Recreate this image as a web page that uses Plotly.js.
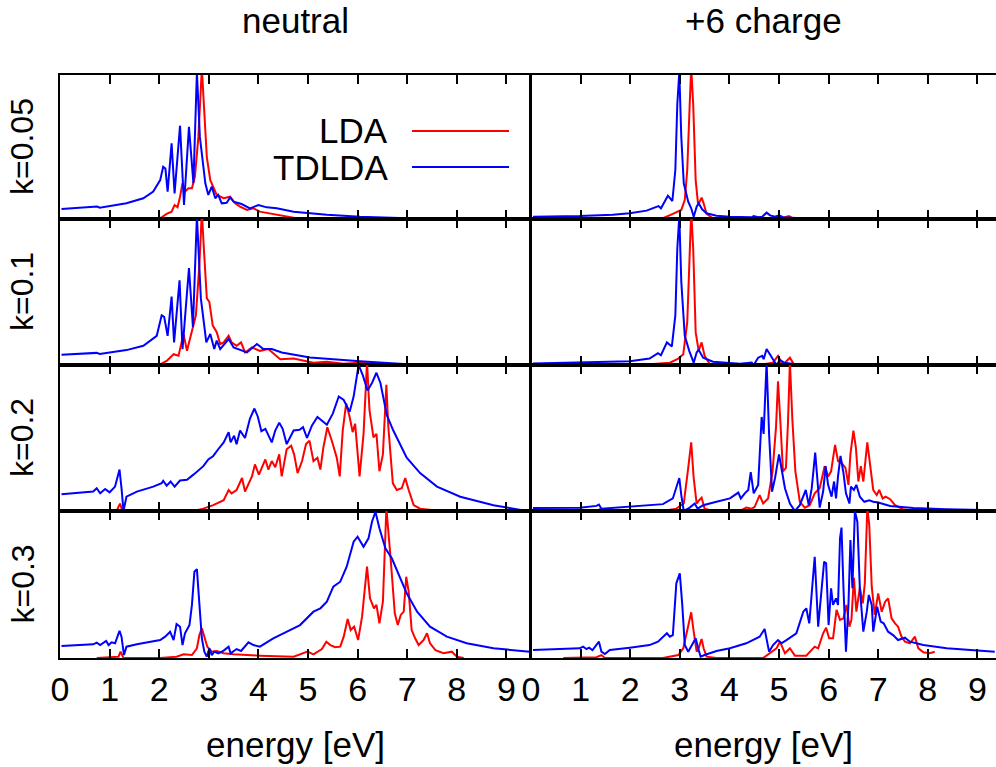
<!DOCTYPE html>
<html>
<head>
<meta charset="utf-8">
<script src="https://cdn.plot.ly/plotly-3.0.1.min.js"></script>
<style>
html,body{margin:0;padding:0;overflow:hidden;background:#fff;}
#chart{width:1000px;height:767px;}
</style>
</head>
<body>
<div id="chart"></div>
<script>
// ---------- data (energy in eV, intensity in arbitrary units scaled to panel height) ----------
const columnTitles = ['neutral', '+6 charge'];
const rowLabels = ['k=0.05', 'k=0.1', 'k=0.2', 'k=0.3'];
const seriesNames = ['LDA', 'TDLDA'];
const tickValues = [0, 1, 2, 3, 4, 5, 6, 7, 8, 9];

// neutral, k=0.05
const neutral005LdaE = [0.8, 2.02, 2.15, 2.25, 2.31, 2.37, 2.42, 2.47, 2.52, 2.59, 2.66, 2.72, 2.79, 2.86, 2.9, 2.96, 3.03, 3.09, 3.16, 3.3, 3.43, 3.53, 3.63, 3.77, 3.9, 4.03, 4.37, 4.71, 5.38, 6.7];
const neutral005LdaI = [0, 0.005, 0.035, 0.051, 0.097, 0.081, 0.155, 0.248, 0.19, 0.213, 0.213, 0.294, 0.57, 1.05, 0.8, 0.43, 0.27, 0.225, 0.167, 0.144, 0.155, 0.109, 0.086, 0.063, 0.074, 0.051, 0.028, 0.009, 0.002, 0];
const neutral005TdE = [0.03, 0.67, 0.75, 0.8, 1.01, 1.34, 1.68, 1.88, 2.02, 2.08, 2.125, 2.17, 2.25, 2.31, 2.42, 2.5, 2.6, 2.69, 2.76, 2.82, 2.93, 2.99, 3.06, 3.13, 3.19, 3.26, 3.36, 3.43, 3.5, 3.66, 3.83, 4.0, 4.17, 4.37, 4.71, 5.38, 6.05, 7.0, 8.74];
const neutral005TdI = [0.07, 0.081, 0.086, 0.079, 0.09, 0.109, 0.144, 0.19, 0.27, 0.363, 0.35, 0.19, 0.525, 0.178, 0.648, 0.097, 0.64, 0.248, 1.02, 0.57, 0.248, 0.167, 0.225, 0.144, 0.167, 0.109, 0.113, 0.15, 0.12, 0.104, 0.074, 0.097, 0.081, 0.074, 0.051, 0.03, 0.016, 0.005, 0];

// neutral, k=0.1
const neutral01LdaE = [0.67, 2.02, 2.15, 2.29, 2.39, 2.49, 2.56, 2.66, 2.74, 2.81, 2.86, 2.9, 2.96, 3.01, 3.08, 3.16, 3.23, 3.3, 3.4, 3.46, 3.56, 3.65, 3.73, 3.87, 4.03, 4.2, 4.44, 4.71, 5.11, 5.38, 5.72, 6.05, 6.72];
const neutral01LdaI = [0, 0.005, 0.028, 0.074, 0.063, 0.213, 0.097, 0.236, 0.34, 0.688, 1.05, 0.8, 0.456, 0.433, 0.27, 0.225, 0.144, 0.155, 0.2, 0.155, 0.132, 0.155, 0.086, 0.12, 0.097, 0.109, 0.039, 0.044, 0.016, 0.023, 0.009, 0.016, 0];
const neutral01TdE = [0.03, 0.74, 0.8, 1.34, 1.68, 1.95, 2.05, 2.1, 2.17, 2.25, 2.3, 2.41, 2.47, 2.6, 2.68, 2.76, 2.84, 2.95, 3.03, 3.11, 3.16, 3.23, 3.4, 3.5, 3.77, 3.97, 4.1, 4.27, 4.47, 5.04, 6.05, 7.0, 9.28];
const neutral01TdI = [0.07, 0.083, 0.076, 0.102, 0.132, 0.2, 0.34, 0.33, 0.2, 0.468, 0.155, 0.58, 0.109, 0.664, 0.26, 1.02, 0.456, 0.155, 0.213, 0.109, 0.167, 0.109, 0.178, 0.12, 0.086, 0.144, 0.109, 0.109, 0.086, 0.051, 0.025, 0.005, 0];

// neutral, k=0.2
const neutral02LdaE = [0.74, 1.14, 1.21, 1.26, 2.69, 2.89, 3.09, 3.3, 3.4, 3.46, 3.56, 3.67, 3.73, 3.87, 3.93, 4.01, 4.14, 4.2, 4.27, 4.34, 4.42, 4.47, 4.57, 4.66, 4.72, 4.79, 4.88, 4.96, 5.03, 5.11, 5.19, 5.25, 5.31, 5.39, 5.48, 5.53, 5.58, 5.64, 5.7, 5.77, 5.84, 5.9, 5.95, 6.04, 6.12, 6.19, 6.24, 6.32, 6.38, 6.44, 6.51, 6.58, 6.62, 6.71, 6.79, 6.89, 6.96, 7.03, 7.13, 7.26, 7.53, 7.94];
const neutral02LdaI = [0, 0, 0.051, 0, 0, 0.016, 0.04, 0.074, 0.144, 0.121, 0.144, 0.226, 0.133, 0.237, 0.319, 0.249, 0.353, 0.284, 0.342, 0.3, 0.388, 0.237, 0.423, 0.447, 0.388, 0.26, 0.342, 0.458, 0.481, 0.342, 0.365, 0.284, 0.435, 0.574, 0.481, 0.423, 0.365, 0.237, 0.551, 0.737, 0.644, 0.54, 0.598, 0.237, 0.528, 1.02, 0.691, 0.505, 0.528, 0.272, 0.388, 0.865, 0.574, 0.191, 0.144, 0.156, 0.226, 0.144, 0.04, 0.016, 0.005, 0];
const neutral02TdE = [0.03, 0.67, 0.74, 0.81, 0.91, 1.0, 1.11, 1.2, 1.24, 1.28, 1.34, 1.55, 1.88, 2.05, 2.08, 2.15, 2.23, 2.31, 2.42, 2.56, 2.69, 2.89, 2.99, 3.09, 3.19, 3.3, 3.4, 3.44, 3.51, 3.56, 3.63, 3.73, 3.83, 3.92, 3.99, 4.06, 4.14, 4.27, 4.34, 4.42, 4.49, 4.57, 4.64, 4.71, 4.83, 4.9, 4.98, 5.08, 5.19, 5.28, 5.38, 5.5, 5.62, 5.72, 5.84, 5.92, 6.02, 6.1, 6.2, 6.29, 6.38, 6.46, 6.59, 6.72, 6.99, 7.26, 7.6, 8.07, 8.74, 9.41];
const neutral02TdI = [0.114, 0.133, 0.156, 0.121, 0.151, 0.128, 0.167, 0.284, 0.156, 0, 0.098, 0.133, 0.167, 0.19, 0.207, 0.174, 0.202, 0.167, 0.209, 0.214, 0.249, 0.307, 0.353, 0.377, 0.423, 0.47, 0.54, 0.47, 0.516, 0.458, 0.551, 0.5, 0.633, 0.702, 0.644, 0.547, 0.563, 0.47, 0.551, 0.605, 0.563, 0.458, 0.505, 0.551, 0.556, 0.574, 0.5, 0.586, 0.644, 0.621, 0.591, 0.667, 0.784, 0.76, 0.679, 0.784, 1.0, 0.935, 0.826, 0.877, 0.947, 0.877, 0.656, 0.551, 0.365, 0.26, 0.167, 0.098, 0.04, 0];

// neutral, k=0.3
const neutral03LdaE = [0.74, 1.18, 1.22, 1.28, 2.02, 2.35, 2.49, 2.66, 2.76, 2.81, 2.86, 2.91, 2.97, 3.06, 3.16, 3.3, 3.5, 4.03, 4.71, 4.99, 5.11, 5.28, 5.37, 5.45, 5.55, 5.65, 5.72, 5.8, 5.86, 5.93, 6.01, 6.09, 6.19, 6.25, 6.33, 6.38, 6.44, 6.51, 6.58, 6.66, 6.75, 6.81, 6.87, 6.93, 6.98, 7.03, 7.09, 7.16, 7.23, 7.33, 7.4, 7.46, 7.57, 7.73, 7.9, 8.0, 8.14];
const neutral03LdaI = [0, 0.009, 0.043, 0, 0, 0.009, 0.025, 0.02, 0.066, 0.156, 0.202, 0.145, 0.077, 0.043, 0.048, 0.032, 0.025, 0.016, 0.009, 0.043, 0.025, 0.061, 0.111, 0.088, 0.073, 0.077, 0.145, 0.265, 0.19, 0.213, 0.122, 0.281, 0.621, 0.406, 0.338, 0.361, 0.236, 0.383, 1.02, 0.701, 0.304, 0.224, 0.293, 0.315, 0.553, 0.451, 0.19, 0.134, 0.088, 0.122, 0.168, 0.1, 0.054, 0.032, 0.043, 0.009, 0];
const neutral03TdE = [0.03, 0.67, 0.74, 0.81, 0.93, 0.98, 1.04, 1.11, 1.2, 1.24, 1.29, 1.34, 1.55, 2.02, 2.12, 2.22, 2.29, 2.35, 2.42, 2.47, 2.52, 2.61, 2.66, 2.71, 2.76, 2.81, 2.86, 2.91, 2.96, 3.01, 3.06, 3.11, 3.19, 3.3, 3.4, 3.44, 3.56, 3.65, 3.8, 3.9, 4.03, 4.3, 4.57, 4.84, 5.11, 5.25, 5.38, 5.51, 5.65, 5.78, 5.92, 6.0, 6.12, 6.22, 6.29, 6.36, 6.44, 6.56, 6.69, 6.86, 6.99, 7.2, 7.46, 7.8, 8.2, 8.74, 9.47];
const neutral03TdI = [0.082, 0.093, 0.104, 0.088, 0.116, 0.088, 0.107, 0.1, 0.184, 0.145, 0.02, 0.077, 0.093, 0.122, 0.145, 0.179, 0.122, 0.231, 0.213, 0.088, 0.168, 0.224, 0.361, 0.587, 0.605, 0.361, 0.134, 0.043, 0.009, 0.066, 0.02, 0.043, 0.032, 0.05, 0.077, 0.032, 0.061, 0.048, 0.107, 0.088, 0.077, 0.134, 0.179, 0.224, 0.315, 0.338, 0.383, 0.485, 0.519, 0.621, 0.791, 0.825, 0.757, 0.814, 0.927, 0.995, 0.882, 0.746, 0.678, 0.542, 0.44, 0.315, 0.213, 0.145, 0.1, 0.066, 0.043];

// +6 charge, k=0.05
const charged005LdaE = [2.13, 2.66, 2.86, 2.97, 3.03, 3.1, 3.15, 3.2, 3.23, 3.27, 3.32, 3.37, 3.44, 3.48, 3.54, 3.67, 4.0, 4.95, 5.0, 5.08, 5.2, 5.28, 5.69];
const charged005LdaI = [0, 0.005, 0.035, 0.05, 0.063, 0.132, 0.34, 0.8, 1.05, 0.8, 0.27, 0.097, 0.148, 0.109, 0.035, 0.005, 0, 0.005, 0.02, 0.009, 0.02, 0.005, 0];
const charged005TdE = [0.04, 0.98, 1.65, 1.99, 2.33, 2.53, 2.57, 2.62, 2.7, 2.76, 2.85, 2.91, 2.95, 2.99, 3.03, 3.08, 3.17, 3.23, 3.28, 3.34, 3.38, 3.45, 3.54, 3.74, 4.01, 4.45, 4.49, 4.58, 4.66, 4.75, 4.82, 4.92, 5.0, 5.08, 5.35, 7.37];
const charged005TdI = [0.016, 0.02, 0.03, 0.04, 0.058, 0.086, 0.09, 0.074, 0.12, 0.162, 0.125, 0.34, 0.8, 1.02, 0.57, 0.248, 0.12, 0.074, 0.016, 0.086, 0.109, 0.067, 0.04, 0.023, 0.016, 0.012, 0.02, 0.012, 0.016, 0.044, 0.025, 0.016, 0.025, 0.012, 0.007, 0.005];

// +6 charge, k=0.1
const charged01LdaE = [2.19, 2.8, 2.97, 3.07, 3.15, 3.2, 3.23, 3.27, 3.32, 3.38, 3.44, 3.5, 3.6, 4.0, 4.68, 4.88, 4.98, 5.05, 5.12, 5.22, 5.3, 5.76];
const charged01LdaI = [0, 0.016, 0.044, 0.074, 0.294, 0.8, 1.05, 0.8, 0.225, 0.097, 0.155, 0.063, 0.009, 0, 0.005, 0.016, 0.063, 0.016, 0.016, 0.05, 0.005, 0];
const charged01TdE = [0.04, 0.98, 1.99, 2.39, 2.56, 2.62, 2.74, 2.84, 2.91, 2.95, 2.99, 3.03, 3.1, 3.19, 3.28, 3.34, 3.38, 3.47, 3.67, 4.21, 4.45, 4.49, 4.58, 4.66, 4.69, 4.75, 4.85, 4.95, 5.02, 5.1, 5.35, 9.05];
const charged01TdI = [0.01, 0.016, 0.025, 0.044, 0.081, 0.067, 0.155, 0.127, 0.34, 0.8, 1.02, 0.57, 0.2, 0.097, 0.016, 0.086, 0.104, 0.05, 0.023, 0.009, 0.016, 0, 0.05, 0.063, 0.04, 0.109, 0.05, 0, 0.035, 0.016, 0.005, 0];

// +6 charge, k=0.2
const charged02LdaE = [1.32, 1.39, 1.45, 2.66, 2.93, 3.08, 3.17, 3.23, 3.28, 3.34, 3.39, 3.44, 3.5, 3.67, 4.21, 4.34, 4.45, 4.51, 4.61, 4.68, 4.78, 4.87, 4.94, 4.98, 5.03, 5.08, 5.14, 5.18, 5.22, 5.27, 5.33, 5.42, 5.52, 5.62, 5.72, 5.82, 5.92, 5.99, 6.05, 6.13, 6.19, 6.26, 6.34, 6.4, 6.44, 6.5, 6.55, 6.6, 6.65, 6.7, 6.78, 6.83, 6.9, 6.97, 7.02, 7.09, 7.15, 7.24, 7.34, 7.5, 7.71];
const charged02LdaI = [0, 0.012, 0, 0, 0.016, 0.051, 0.295, 0.47, 0.226, 0.051, 0.074, 0.091, 0.016, 0, 0, 0.023, 0.016, 0.028, 0.109, 0.051, 0.086, 0.272, 0.574, 0.888, 0.598, 0.272, 0.295, 0.598, 1.02, 0.621, 0.272, 0.063, 0.023, 0.04, 0.121, 0.156, 0.307, 0.237, 0.272, 0.453, 0.342, 0.33, 0.295, 0.179, 0.388, 0.551, 0.435, 0.202, 0.307, 0.202, 0.47, 0.342, 0.144, 0.109, 0.144, 0.086, 0.098, 0.081, 0.04, 0.012, 0];
const charged02TdE = [0.04, 0.98, 1.32, 1.37, 1.42, 1.99, 2.66, 2.86, 2.99, 3.03, 3.08, 3.2, 3.3, 3.36, 3.47, 3.74, 4.01, 4.18, 4.23, 4.31, 4.38, 4.43, 4.49, 4.58, 4.65, 4.69, 4.75, 4.8, 4.86, 4.92, 5.0, 5.06, 5.12, 5.22, 5.32, 5.42, 5.54, 5.6, 5.66, 5.73, 5.77, 5.82, 5.89, 5.94, 5.99, 6.06, 6.11, 6.15, 6.19, 6.24, 6.3, 6.35, 6.42, 6.45, 6.51, 6.56, 6.63, 6.72, 6.82, 6.9, 7.0, 7.24, 7.71, 8.38, 9.35];
const charged02TdI = [0.021, 0.023, 0.035, 0.044, 0.016, 0.028, 0.047, 0.086, 0.226, 0.109, 0, 0.023, 0.051, 0.016, 0.04, 0.063, 0.086, 0.126, 0.086, 0.121, 0.144, 0.267, 0.121, 0.179, 0.644, 0.528, 1.02, 0.528, 0.133, 0.226, 0.388, 0.272, 0.156, 0.051, 0, 0.04, 0.144, 0.04, 0.156, 0.4, 0.226, 0.023, 0.133, 0.307, 0.179, 0.098, 0.202, 0.086, 0.237, 0.377, 0.26, 0.121, 0.051, 0.167, 0.144, 0.179, 0.098, 0.063, 0.074, 0.063, 0.058, 0.035, 0.021, 0.012, 0.005];

// +6 charge, k=0.3
const charged03LdaE = [0.65, 1.32, 1.42, 1.49, 2.66, 2.97, 3.07, 3.15, 3.23, 3.28, 3.34, 3.38, 3.44, 3.48, 3.54, 3.74, 4.68, 4.95, 5.02, 5.12, 5.22, 5.32, 5.55, 5.72, 5.79, 5.89, 5.95, 6.01, 6.09, 6.16, 6.23, 6.3, 6.36, 6.42, 6.46, 6.51, 6.56, 6.63, 6.69, 6.73, 6.78, 6.82, 6.87, 6.93, 7.0, 7.07, 7.14, 7.2, 7.27, 7.34, 7.4, 7.47, 7.54, 7.64, 7.74, 7.81, 7.91, 8.04, 8.14];
const charged03LdaI = [0, 0.005, 0.02, 0, 0, 0.02, 0.066, 0.179, 0.311, 0.179, 0.043, 0.066, 0.129, 0.066, 0.009, 0, 0, 0.066, 0.111, 0.032, 0.066, 0.016, 0.016, 0.077, 0.066, 0.168, 0.206, 0.134, 0.134, 0.327, 0.259, 0.27, 0.361, 0.213, 0.259, 0.546, 0.315, 0.478, 0.372, 0.508, 1.02, 0.905, 0.485, 0.293, 0.44, 0.315, 0.383, 0.406, 0.27, 0.236, 0.213, 0.145, 0.111, 0.1, 0.145, 0.066, 0.039, 0.032, 0.043];
const charged03TdE = [0.04, 0.78, 0.98, 1.05, 1.12, 1.17, 1.24, 1.37, 1.42, 1.49, 1.59, 1.99, 2.39, 2.56, 2.66, 2.74, 2.8, 2.86, 2.93, 3.0, 3.05, 3.1, 3.17, 3.27, 3.32, 3.37, 3.42, 3.5, 3.74, 4.01, 4.34, 4.61, 4.71, 4.8, 4.88, 4.98, 5.05, 5.15, 5.35, 5.49, 5.55, 5.61, 5.66, 5.72, 5.79, 5.86, 5.91, 5.95, 6.0, 6.05, 6.09, 6.15, 6.19, 6.23, 6.26, 6.3, 6.35, 6.4, 6.44, 6.48, 6.53, 6.58, 6.63, 6.7, 6.77, 6.81, 6.87, 6.9, 6.98, 7.05, 7.11, 7.2, 7.3, 7.4, 7.54, 7.64, 7.91, 8.38, 9.35];
const charged03TdI = [0.054, 0.061, 0.066, 0.077, 0.061, 0.07, 0.054, 0.111, 0.043, 0.027, 0.054, 0.07, 0.088, 0.111, 0.145, 0.168, 0.145, 0.156, 0.508, 0.576, 0.361, 0.088, 0.043, 0.111, 0.134, 0.066, 0.009, 0.02, 0.048, 0.066, 0.1, 0.145, 0.197, 0.043, 0.088, 0.122, 0.1, 0.122, 0.168, 0.315, 0.338, 0.236, 0.451, 0.689, 0.213, 0.474, 0.655, 0.644, 0.224, 0.474, 0.361, 0.406, 0.361, 0.814, 0.887, 0.474, 0.043, 0.361, 0.803, 0.474, 1.0, 0.927, 0.474, 0.179, 0.315, 0.429, 0.361, 0.179, 0.349, 0.247, 0.236, 0.179, 0.156, 0.122, 0.138, 0.111, 0.088, 0.066, 0.043];

// ---------- assemble ----------
const panels = [
  [[neutral005LdaE, neutral005LdaI, neutral005TdE, neutral005TdI], [charged005LdaE, charged005LdaI, charged005TdE, charged005TdI]],
  [[neutral01LdaE, neutral01LdaI, neutral01TdE, neutral01TdI], [charged01LdaE, charged01LdaI, charged01TdE, charged01TdI]],
  [[neutral02LdaE, neutral02LdaI, neutral02TdE, neutral02TdI], [charged02LdaE, charged02LdaI, charged02TdE, charged02TdI]],
  [[neutral03LdaE, neutral03LdaI, neutral03TdE, neutral03TdI], [charged03LdaE, charged03LdaI, charged03TdE, charged03TdI]]
];

const W = 1000, H = 767;
const FONT = 'Liberation Sans, Arial, Helvetica, sans-serif';
const colPx = [[60, 530], [531, 1000]];
const rowPx = [[75, 219], [219, 365], [365, 511], [511, 658]];
const pxPerEv = 49.6;
const RED = '#ff0000', BLUE = '#0000ff';

const data = [];
const layout = {
  width: W, height: H,
  margin: {l: 0, r: 0, t: 0, b: 0},
  paper_bgcolor: '#fff', plot_bgcolor: '#fff',
  showlegend: false,
  font: {family: FONT, size: 34, color: '#000'},
  annotations: [], shapes: []
};

for (let r = 0; r < 4; r++) {
  for (let c = 0; c < 2; c++) {
    const n = r * 2 + c + 1;
    const xa = 'x' + (n === 1 ? '' : n), ya = 'y' + (n === 1 ? '' : n);
    const xk = 'xaxis' + (n === 1 ? '' : n), yk = 'yaxis' + (n === 1 ? '' : n);
    const p = panels[r][c];
    data.push({x: p[0], y: p[1], xaxis: xa, yaxis: ya, type: 'scatter', mode: 'lines',
      name: seriesNames[0], line: {color: RED, width: 2}});
    data.push({x: p[2], y: p[3], xaxis: xa, yaxis: ya, type: 'scatter', mode: 'lines',
      name: seriesNames[1], line: {color: BLUE, width: 2}});
    layout[xk] = {
      domain: [colPx[c][0] / W, colPx[c][1] / W],
      range: [0, (colPx[c][1] - colPx[c][0]) / pxPerEv],
      anchor: ya,
      tickmode: 'array', tickvals: tickValues, ticktext: tickValues.map(String),
      ticks: 'inside', ticklen: 9, tickwidth: 2, tickcolor: '#000',
      showline: true, linecolor: '#000', linewidth: 2, mirror: 'ticks',
      showgrid: false, zeroline: false,
      showticklabels: r === 3,
      tickfont: {family: FONT, size: 34, color: '#000'}
    };
    layout[yk] = {
      domain: [1 - rowPx[r][1] / H, 1 - rowPx[r][0] / H],
      range: [0, 1],
      anchor: xa,
      showticklabels: false, ticks: '',
      showline: true, linecolor: '#000', linewidth: 2, mirror: true,
      showgrid: false, zeroline: false
    };
  }
}

// column titles and x-axis titles
for (let c = 0; c < 2; c++) {
  const cx = (colPx[c][0] + Math.min(colPx[c][1], 996)) / 2 / W;
  layout.annotations.push({text: columnTitles[c], xref: 'paper', yref: 'paper', x: cx, y: 1 - 21 / H,
    xanchor: 'center', yanchor: 'middle', showarrow: false, font: {family: FONT, size: 35, color: '#000'}});
  layout.annotations.push({text: 'energy [eV]', xref: 'paper', yref: 'paper', x: cx, y: 1 - 744 / H,
    xanchor: 'center', yanchor: 'middle', showarrow: false, font: {family: FONT, size: 35, color: '#000'}});
}
// row labels
for (let r = 0; r < 4; r++) {
  const cy = (rowPx[r][0] + rowPx[r][1]) / 2;
  layout.annotations.push({text: rowLabels[r], xref: 'paper', yref: 'paper', x: 22 / W, y: 1 - cy / H,
    xanchor: 'center', yanchor: 'middle', textangle: -90, showarrow: false,
    font: {family: FONT, size: 32, color: '#000'}});
}
// legend (text left of sample line, as in the original)
const legendRows = [[seriesNames[0], RED, 131], [seriesNames[1], BLUE, 167]];
legendRows.forEach(([name, col, py]) => {
  layout.annotations.push({text: name, xref: 'paper', yref: 'paper', x: 390 / W, y: 1 - py / H,
    xanchor: 'right', yanchor: 'middle', showarrow: false, font: {family: FONT, size: 35, color: '#000'}});
  layout.shapes.push({type: 'line', xref: 'paper', yref: 'paper', x0: 412 / W, x1: 509 / W,
    y0: 1 - py / H, y1: 1 - py / H, line: {color: col, width: 2}});
});

Plotly.newPlot('chart', data, layout, {staticPlot: true, displayModeBar: false});
</script>
</body>
</html>
